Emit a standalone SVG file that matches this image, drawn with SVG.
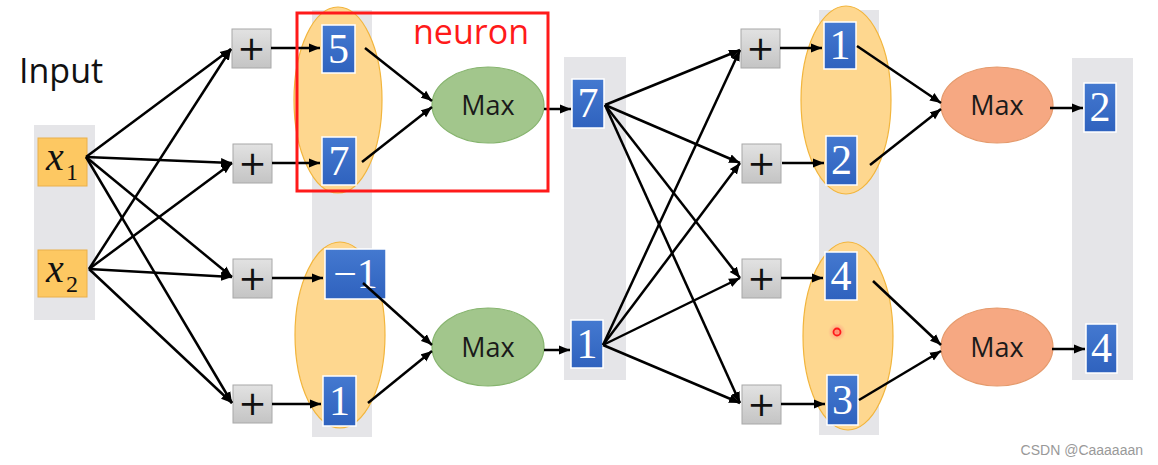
<svg xmlns="http://www.w3.org/2000/svg" width="1158" height="465" viewBox="0 0 1158 465">
<defs>
<marker id="ah" markerUnits="userSpaceOnUse" markerWidth="12" markerHeight="10" refX="11" refY="5" orient="auto">
<path d="M0,0.5 L11,5 L0,9.5 z" fill="#000"/>
</marker>
<linearGradient id="gp" x1="0" y1="0" x2="0" y2="1">
<stop offset="0" stop-color="#e2e2e2"/><stop offset="1" stop-color="#c4c4c4"/>
</linearGradient>
<linearGradient id="gb" x1="0" y1="0" x2="0" y2="1">
<stop offset="0" stop-color="#4479d0"/><stop offset="1" stop-color="#2f62be"/>
</linearGradient>
<radialGradient id="glow">
<stop offset="0" stop-color="#ff6060" stop-opacity="0.7"/><stop offset="1" stop-color="#ff8080" stop-opacity="0"/>
</radialGradient>
</defs>
<style>
.col{fill:#e5e5e8}
.oval{fill:#fed78f;stroke:#f2b53c;stroke-width:1.2}
.plus{fill:url(#gp);stroke:#a8a8a8;stroke-width:1}
.pt{font-family:"DejaVu Sans","Liberation Sans",sans-serif;font-size:34px;fill:#111;text-anchor:middle}
.bx{fill:url(#gb);stroke:#ffffff;stroke-width:1.5}
.bt{font-family:"Liberation Serif","DejaVu Serif",serif;font-size:42px;fill:#fff;text-anchor:middle}
.mg{fill:#a2c68c;stroke:#86b46e;stroke-width:1.2}
.mo{fill:#f6a882;stroke:#e59a6c;stroke-width:1.2}
.mt{font-family:"Open Sans","Liberation Sans",sans-serif;font-size:27px;fill:#1a1a1a;text-anchor:middle}
.xb{fill:#fdc862;stroke:#eab04a;stroke-width:1}
.xt{font-family:"Liberation Serif","DejaVu Serif",serif;font-style:italic;font-size:40px;fill:#111}
.xs{font-family:"Liberation Serif","DejaVu Serif",serif;font-size:24px;fill:#111}
.cn path{fill:none;stroke:#000;stroke-width:2.5;marker-end:url(#ah)}
</style>
<rect width="1158" height="465" fill="#ffffff"/>

<!-- background columns -->
<rect class="col" x="34" y="125" width="61" height="195"/>
<rect class="col" x="312" y="10" width="60" height="427"/>
<rect class="col" x="564" y="57" width="62" height="323"/>
<rect class="col" x="819" y="10" width="60" height="425"/>
<rect class="col" x="1072" y="58" width="61" height="322"/>

<!-- orange groupings -->
<ellipse class="oval" cx="338" cy="100" rx="44" ry="93"/>
<ellipse class="oval" cx="340" cy="335" rx="45" ry="93"/>
<ellipse class="oval" cx="846" cy="100" rx="45" ry="94"/>
<ellipse class="oval" cx="848" cy="336" rx="45" ry="94"/>

<text x="19" y="83" font-family="'Open Sans','Liberation Sans',sans-serif" font-size="34" fill="#111">Input</text>

<g id="x1"><rect class="xb" x="38" y="138" width="49" height="48"/><text class="xt" x="46" y="170">x</text><text class="xs" x="66" y="180">1</text></g>
<g id="x2"><rect class="xb" x="38" y="250" width="49" height="47"/><text class="xt" x="46" y="282">x</text><text class="xs" x="66" y="292">2</text></g>

<g id="plusA1"><rect class="plus" x="232" y="29" width="39" height="39"/><text class="pt" x="251.5" y="60">+</text></g>
<g id="plusA2"><rect class="plus" x="233" y="144" width="39" height="39"/><text class="pt" x="252.5" y="175">+</text></g>
<g id="plusA3"><rect class="plus" x="233" y="259" width="39" height="39"/><text class="pt" x="252.5" y="290">+</text></g>
<g id="plusA4"><rect class="plus" x="233" y="385" width="39" height="38"/><text class="pt" x="252.5" y="415">+</text></g>

<g id="b5"><rect class="bx" x="322" y="25" width="33" height="48"/><text class="bt" x="338.5" y="63">5</text></g>
<g id="b7"><rect class="bx" x="322" y="137" width="34" height="48"/><text class="bt" x="339" y="175">7</text></g>
<g id="bm1"><rect class="bx" x="325" y="249" width="61" height="50"/><text class="bt" x="355.5" y="288">−1</text></g>
<g id="b1"><rect class="bx" x="323" y="376" width="33" height="50"/><text class="bt" x="339.5" y="415">1</text></g>

<g id="maxA"><ellipse class="mg" cx="488" cy="105" rx="56" ry="38"/><text class="mt" x="488" y="115">Max</text></g>
<g id="maxB"><ellipse class="mg" cx="488" cy="347" rx="56" ry="39"/><text class="mt" x="488" y="357">Max</text></g>

<g id="c7"><rect class="bx" x="572" y="79" width="32" height="49"/><text class="bt" x="588" y="117">7</text></g>
<g id="c1"><rect class="bx" x="571" y="320" width="32" height="48"/><text class="bt" x="587" y="358">1</text></g>

<g id="plusB1"><rect class="plus" x="741" y="29" width="39" height="39"/><text class="pt" x="760.5" y="60">+</text></g>
<g id="plusB2"><rect class="plus" x="742" y="144" width="39" height="39"/><text class="pt" x="761.5" y="175">+</text></g>
<g id="plusB3"><rect class="plus" x="742" y="259" width="39" height="39"/><text class="pt" x="761.5" y="290">+</text></g>
<g id="plusB4"><rect class="plus" x="742" y="385" width="39" height="39"/><text class="pt" x="761.5" y="416">+</text></g>

<g id="d1"><rect class="bx" x="824" y="22" width="32" height="47"/><text class="bt" x="840" y="59">1</text></g>
<g id="d2"><rect class="bx" x="826" y="136" width="31" height="49"/><text class="bt" x="841.5" y="174">2</text></g>
<g id="d4"><rect class="bx" x="825" y="252" width="32" height="48"/><text class="bt" x="841" y="290">4</text></g>
<g id="d3"><rect class="bx" x="827" y="375" width="31" height="50"/><text class="bt" x="842.5" y="414">3</text></g>

<g id="maxC"><ellipse class="mo" cx="997" cy="105" rx="56" ry="38"/><text class="mt" x="997" y="115">Max</text></g>
<g id="maxD"><ellipse class="mo" cx="997" cy="347" rx="56" ry="39"/><text class="mt" x="997" y="357">Max</text></g>

<g id="o2"><rect class="bx" x="1084" y="83" width="32" height="49"/><text class="bt" x="1100" y="121">2</text></g>
<g id="o4"><rect class="bx" x="1086" y="324" width="31" height="49"/><text class="bt" x="1101.5" y="362">4</text></g>

<g id="connectors" class="cn">
<path d="M86,157 L231,49"/>
<path d="M86,157 L232,163"/>
<path d="M86,157 L232,277"/>
<path d="M86,157 L232,403"/>
<path d="M89,269 L231,49"/>
<path d="M89,269 L232,163"/>
<path d="M89,269 L232,277"/>
<path d="M89,269 L232,403"/>
<path d="M271,48 L320,48"/>
<path d="M272,163 L320,163"/>
<path d="M272,278 L323,278"/>
<path d="M272,404 L321,404"/>
<path d="M365,48 L432,101"/>
<path d="M362,162 L432,107"/>
<path d="M363,283 L432,345"/>
<path d="M368,403 L432,351"/>
<path d="M544,109 L571,109"/>
<path d="M544,350 L570,350"/>
<path d="M605,105 L740,50"/>
<path d="M605,105 L740,163"/>
<path d="M605,105 L740,278"/>
<path d="M605,105 L740,403"/>
<path d="M603,345 L740,50"/>
<path d="M603,345 L740,163"/>
<path d="M603,345 L740,278"/>
<path d="M603,345 L740,403"/>
<path d="M780,48 L822,48"/>
<path d="M782,163 L824,163"/>
<path d="M781,278 L823,278"/>
<path d="M781,404 L825,404"/>
<path d="M857,46 L941,103"/>
<path d="M870,165 L941,109"/>
<path d="M873,281 L941,345"/>
<path d="M859,400 L941,351"/>
<path d="M1050,108 L1083,108"/>
<path d="M1052,349 L1085,349"/>
</g>

<rect x="297" y="13" width="251" height="178" fill="none" stroke="#ff1a1a" stroke-width="3"/>
<text x="413" y="44" font-family="'Open Sans','Liberation Sans',sans-serif" font-size="34" fill="#ff1a1a">neuron</text>

<circle cx="837" cy="332" r="9" fill="url(#glow)"/>
<circle cx="837" cy="332" r="3.5" fill="none" stroke="#ff1a1a" stroke-width="1.8"/>

<text x="1143" y="455" text-anchor="end" font-family="'Liberation Sans',Arial,sans-serif" font-size="14" fill="#999">CSDN @Caaaaaan</text>
</svg>
